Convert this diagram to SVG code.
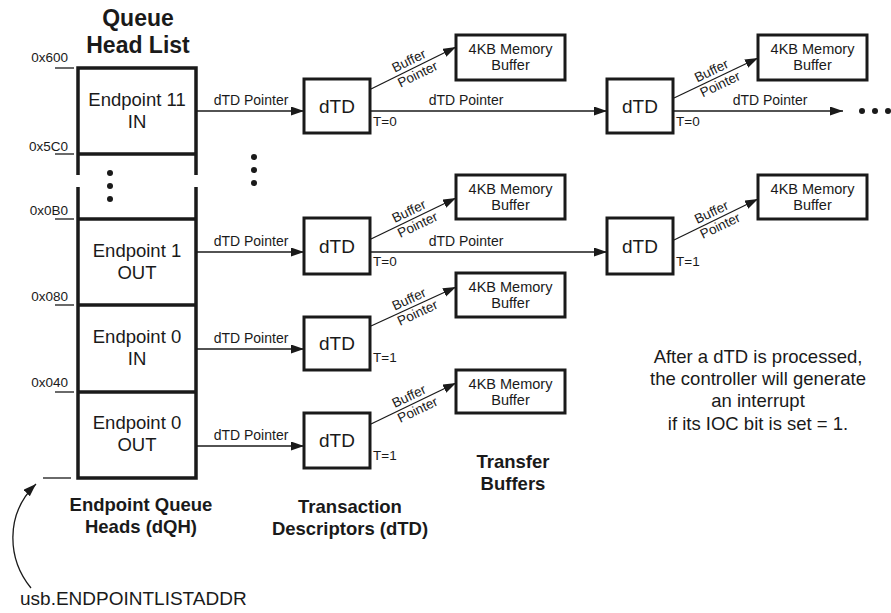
<svg xmlns="http://www.w3.org/2000/svg" width="891" height="613" viewBox="0 0 891 613">
<style>
text{font-family:"Liberation Sans",Arial,sans-serif;fill:#1a1a1a}
.box{fill:#fff;stroke:#1a1a1a;stroke-width:3}
.qh{fill:none;stroke:#1a1a1a;stroke-width:3.5}
.ln{fill:none;stroke:#1a1a1a;stroke-width:1.3}
.tick{stroke:#1a1a1a;stroke-width:1.3}
.title{font-size:23px;font-weight:bold;text-anchor:middle}
.ep{font-size:18.5px;text-anchor:middle}
.addr{font-size:13.5px;text-anchor:end}
.ptr{font-size:14px;text-anchor:middle}
.dtd{font-size:19px;text-anchor:middle}
.mem{font-size:14.5px;text-anchor:middle}
.t{font-size:13.5px}
.bp{font-size:13.5px;text-anchor:middle}
.cap{font-size:18.5px;font-weight:bold;text-anchor:middle}
.note{font-size:18.5px;text-anchor:middle}
.dot{fill:#1a1a1a}
</style>
<defs>
<marker id="ah" markerWidth="14" markerHeight="10" refX="13" refY="4.5" orient="auto" markerUnits="userSpaceOnUse">
<path d="M0,0 L13,4.5 L0,9 z" fill="#1a1a1a"/>
</marker>
</defs>

<g id="title">
<text class="title" x="138" y="26">Queue</text>
<text class="title" x="138" y="53">Head List</text>
</g>

<g id="queue-head-list">
<path class="qh" d="M78,175 V68 H196 V175"/>
<path class="qh" d="M78,187 V478 H196 V187"/>
<line class="qh" x1="78" y1="154" x2="196" y2="154"/>
<line class="qh" x1="78" y1="219" x2="196" y2="219"/>
<line class="qh" x1="78" y1="305" x2="196" y2="305"/>
<line class="qh" x1="78" y1="392" x2="196" y2="392"/>
<circle class="dot" cx="110" cy="173" r="3"/>
<circle class="dot" cx="110" cy="186" r="3"/>
<circle class="dot" cx="110" cy="199" r="3"/>
</g>

<g id="addresses">
<text class="addr" x="68" y="62">0x600</text>
<text class="addr" x="68" y="151">0x5C0</text>
<text class="addr" x="68" y="215">0x0B0</text>
<text class="addr" x="68" y="301">0x080</text>
<text class="addr" x="68" y="387">0x040</text>
<line class="tick" x1="55" y1="68" x2="74" y2="68"/>
<line class="tick" x1="55" y1="154" x2="74" y2="154"/>
<line class="tick" x1="55" y1="219" x2="74" y2="219"/>
<line class="tick" x1="55" y1="305" x2="74" y2="305"/>
<line class="tick" x1="55" y1="392" x2="74" y2="392"/>
<line class="tick" x1="43" y1="478" x2="71" y2="478"/>
</g>

<g id="ep11in"><text class="ep" x="137" y="106">Endpoint 11</text><text class="ep" x="137" y="128">IN</text></g>
<g id="ep1out"><text class="ep" x="137" y="257">Endpoint 1</text><text class="ep" x="137" y="279">OUT</text></g>
<g id="ep0in"><text class="ep" x="137" y="343">Endpoint 0</text><text class="ep" x="137" y="365">IN</text></g>
<g id="ep0out"><text class="ep" x="137" y="429">Endpoint 0</text><text class="ep" x="137" y="451">OUT</text></g>

<g id="connectors">
<line class="ln" x1="197" y1="111" x2="304" y2="111" marker-end="url(#ah)"/>
<line class="ln" x1="197" y1="252" x2="304" y2="252" marker-end="url(#ah)"/>
<line class="ln" x1="197" y1="349" x2="304" y2="349" marker-end="url(#ah)"/>
<line class="ln" x1="197" y1="446" x2="304" y2="446" marker-end="url(#ah)"/>
<line class="ln" x1="371" y1="111" x2="607" y2="111" marker-end="url(#ah)"/>
<line class="ln" x1="674" y1="111" x2="843" y2="111" marker-end="url(#ah)"/>
<line class="ln" x1="371" y1="252" x2="607" y2="252" marker-end="url(#ah)"/>
<line class="ln" x1="371" y1="89" x2="456" y2="47" marker-end="url(#ah)"/>
<line class="ln" x1="674" y1="98" x2="758" y2="58" marker-end="url(#ah)"/>
<line class="ln" x1="371" y1="239" x2="456" y2="198" marker-end="url(#ah)"/>
<line class="ln" x1="674" y1="240" x2="758" y2="199" marker-end="url(#ah)"/>
<line class="ln" x1="371" y1="326" x2="456" y2="287" marker-end="url(#ah)"/>
<line class="ln" x1="371" y1="424" x2="456" y2="383" marker-end="url(#ah)"/>
<path class="ln" d="M31,588 C8,560 4,515 36,484" marker-end="url(#ah)"/>
<text class="ptr" x="251" y="105">dTD Pointer</text>
<text class="ptr" x="251" y="246">dTD Pointer</text>
<text class="ptr" x="251" y="343">dTD Pointer</text>
<text class="ptr" x="251" y="440">dTD Pointer</text>
<text class="ptr" x="466" y="105">dTD Pointer</text>
<text class="ptr" x="770" y="105">dTD Pointer</text>
<text class="ptr" x="466" y="246">dTD Pointer</text>
<g transform="translate(413.5,68) rotate(-26)"><text class="bp" x="-1" y="-4">Buffer</text><text class="bp" x="1" y="12">Pointer</text></g>
<g transform="translate(716,78) rotate(-25.5)"><text class="bp" x="-1" y="-4">Buffer</text><text class="bp" x="1" y="12">Pointer</text></g>
<g transform="translate(413.5,218.5) rotate(-25.5)"><text class="bp" x="-1" y="-4">Buffer</text><text class="bp" x="1" y="12">Pointer</text></g>
<g transform="translate(716,219.5) rotate(-25.5)"><text class="bp" x="-1" y="-4">Buffer</text><text class="bp" x="1" y="12">Pointer</text></g>
<g transform="translate(413.5,306.5) rotate(-25)"><text class="bp" x="-1" y="-4">Buffer</text><text class="bp" x="1" y="12">Pointer</text></g>
<g transform="translate(413.5,403.5) rotate(-25.5)"><text class="bp" x="-1" y="-4">Buffer</text><text class="bp" x="1" y="12">Pointer</text></g>
<circle class="dot" cx="862" cy="111" r="3"/>
<circle class="dot" cx="875" cy="111" r="3"/>
<circle class="dot" cx="888" cy="111" r="3"/>
<circle class="dot" cx="254" cy="157" r="3"/>
<circle class="dot" cx="254" cy="170" r="3"/>
<circle class="dot" cx="254" cy="183" r="3"/>
</g>

<g id="dtd-r1c1"><rect class="box" x="304" y="79" width="66" height="54"/><text class="dtd" x="337" y="113">dTD</text><text class="t" x="373" y="126">T=0</text></g>
<g id="dtd-r1c2"><rect class="box" x="607" y="79" width="66" height="54"/><text class="dtd" x="640" y="113">dTD</text><text class="t" x="676" y="126">T=0</text></g>
<g id="dtd-r2c1"><rect class="box" x="304" y="218" width="66" height="56"/><text class="dtd" x="337" y="253">dTD</text><text class="t" x="373" y="266">T=0</text></g>
<g id="dtd-r2c2"><rect class="box" x="607" y="218" width="66" height="56"/><text class="dtd" x="640" y="253">dTD</text><text class="t" x="676" y="266">T=1</text></g>
<g id="dtd-r3"><rect class="box" x="304" y="317" width="66" height="53"/><text class="dtd" x="337" y="350">dTD</text><text class="t" x="373" y="362">T=1</text></g>
<g id="dtd-r4"><rect class="box" x="304" y="413" width="66" height="55"/><text class="dtd" x="337" y="447">dTD</text><text class="t" x="373" y="460">T=1</text></g>

<g id="mem-r1c1"><rect class="box" x="456" y="35" width="109" height="45"/><text class="mem" x="510.5" y="54">4KB Memory</text><text class="mem" x="510.5" y="69.5">Buffer</text></g>
<g id="mem-r1c2"><rect class="box" x="758" y="35" width="109" height="45"/><text class="mem" x="812.5" y="54">4KB Memory</text><text class="mem" x="812.5" y="69.5">Buffer</text></g>
<g id="mem-r2c1"><rect class="box" x="456" y="175" width="109" height="44"/><text class="mem" x="510.5" y="194">4KB Memory</text><text class="mem" x="510.5" y="209.5">Buffer</text></g>
<g id="mem-r2c2"><rect class="box" x="758" y="175" width="109" height="44"/><text class="mem" x="812.5" y="194">4KB Memory</text><text class="mem" x="812.5" y="209.5">Buffer</text></g>
<g id="mem-r3"><rect class="box" x="456" y="273" width="109" height="44"/><text class="mem" x="510.5" y="292">4KB Memory</text><text class="mem" x="510.5" y="307.5">Buffer</text></g>
<g id="mem-r4"><rect class="box" x="456" y="370" width="109" height="43"/><text class="mem" x="510.5" y="389">4KB Memory</text><text class="mem" x="510.5" y="404.5">Buffer</text></g>

<g id="captions">
<text class="cap" x="141" y="511">Endpoint Queue</text>
<text class="cap" x="141" y="533">Heads (dQH)</text>
<text class="cap" x="350" y="513">Transaction</text>
<text class="cap" x="350" y="535">Descriptors (dTD)</text>
<text class="cap" x="513" y="468">Transfer</text>
<text class="cap" x="513" y="490">Buffers</text>
<text x="20" y="605" style="font-size:19px">usb.ENDPOINTLISTADDR</text>
</g>

<g id="note">
<text class="note" x="758" y="363">After a dTD is processed,</text>
<text class="note" x="758" y="385">the controller will generate</text>
<text class="note" x="758" y="407">an interrupt</text>
<text class="note" x="758" y="430">if its IOC bit is set = 1.</text>
</g>
</svg>
